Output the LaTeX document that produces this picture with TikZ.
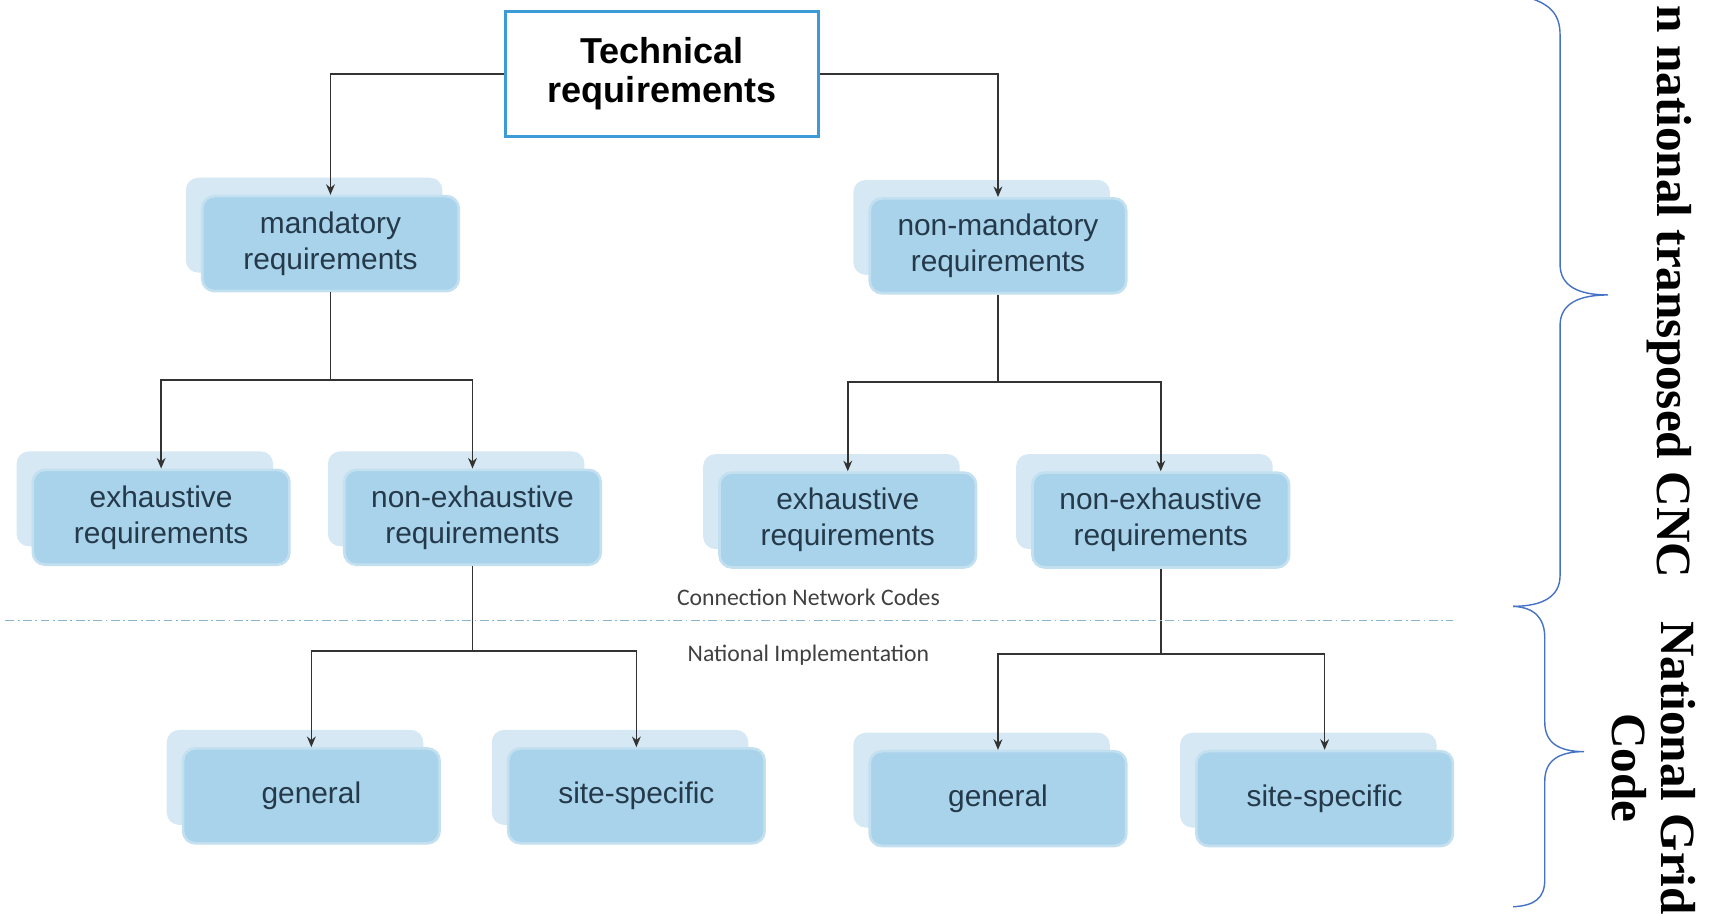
\documentclass[tikz,border=0pt]{standalone}
\usepackage{fontspec}
\setmainfont{Liberation Sans}
\newfontfamily\notefont{Carlito}
\newfontfamily\sidefont{Liberation Serif}
\usetikzlibrary{arrows.meta,shadows}
\definecolor{BoxBlue}{HTML}{A9D3EA}
\definecolor{BackBlue}{HTML}{D5E8F3}
\definecolor{BoxText}{HTML}{24394A}
\definecolor{TopBlue}{HTML}{3C9AD6}
\definecolor{BraceBlue}{HTML}{4472C4}
\definecolor{SepBlue}{HTML}{8DB4CD}
\begin{document}
\begin{tikzpicture}
[
x=0.02185cm, y=-0.02185cm,
TopBox/.style={rectangle, draw=TopBlue, line width=1.6pt, fill=white, minimum width=178pt, minimum height=71pt, align=center, font=\fontsize{20.5}{22}\selectfont\bfseries},
ReqBox/.style={rectangle, rounded corners=7pt, fill=BoxBlue, draw=BoxBlue!70!white, line width=1.5pt, minimum width=146pt, minimum height=54pt, align=center, text=BoxText, font=\fontsize{17}{20.5}\selectfont, copy shadow={shadow xshift=-9.3pt, shadow yshift=10.5pt, fill=BackBlue, draw=none}},
Link/.style={-{Stealth[length=6pt,width=5pt]}, draw=black!80, line width=0.9pt},
Note/.style={font=\notefont\fontsize{13.5}{16}\selectfont, text=black!75},
Side/.style={font=\sidefont\fontsize{28}{28}\selectfont\bfseries, rotate=-90, align=center},
Brace/.style={draw=BraceBlue, line width=0.8pt},
SepLine/.style={draw=SepBlue, line width=1pt, dash pattern=on 5pt off 2pt on 1pt off 2pt},
]

\useasboundingbox (0,0) rectangle (1568,836);

% top level
\node[TopBox] (tech) at (606,67.5) {Technical\\requirements};

% second level
\node[ReqBox] (mand) at (302.5,223) {mandatory\\requirements};
\node[ReqBox] (nonmand) at (913.5,225) {non-mandatory\\requirements};

% third level
\node[ReqBox] (exhL) at (147.5,473.5) {exhaustive\\requirements};
\node[ReqBox] (nexL) at (432.5,473.5) {non-exhaustive\\requirements};
\node[ReqBox] (exhR) at (776,476) {exhaustive\\requirements};
\node[ReqBox] (nexR) at (1062.5,476) {non-exhaustive\\requirements};

% national level
\node[ReqBox] (genL) at (285,728.5) {general};
\node[ReqBox] (siteL) at (582.5,728.5) {site-specific};
\node[ReqBox] (genR) at (913.5,731) {general};
\node[ReqBox] (siteR) at (1212.5,731) {site-specific};

\draw[Link] (tech.west) -| (mand.north);
\draw[Link] (tech.east) -| (nonmand.north);

\draw[Link] (mand.south) -- ++(0,80) -| (exhL.north);
\draw[Link] (mand.south) -- ++(0,80) -| (nexL.north);
\draw[Link] (nonmand.south) -- ++(0,80) -| (exhR.north);
\draw[Link] (nonmand.south) -- ++(0,80) -| (nexR.north);

\draw[Link] (nexL.south) -- ++(0,78) -| (genL.north);
\draw[Link] (nexL.south) -- ++(0,78) -| (siteL.north);
\draw[Link] (nexR.south) -- ++(0,78) -| (genR.north);
\draw[Link] (nexR.south) -- ++(0,78) -| (siteR.north);

% separation of the two levels
\draw[SepLine] (5,568) -- (1330,568);
\node[Note] (cnc) at (740,547) {Connection Network Codes};
\node[Note] (natimp) at (740,600) {National Implementation};

% braces
\draw[Brace] (1392,-4) .. controls (1418,2) and (1428,12) .. (1428,32) -- (1428,242)
  .. controls (1428,262) and (1445,270) .. (1472,270)
  .. controls (1445,270) and (1428,278) .. (1428,298) -- (1428,527)
  .. controls (1428,546) and (1412,555) .. (1385,555);
\draw[Brace] (1385,555) .. controls (1405,556) and (1414,566) .. (1414,584) -- (1414,661)
  .. controls (1414,680) and (1427,688) .. (1450,688)
  .. controls (1427,688) and (1414,696) .. (1414,715) -- (1414,805)
  .. controls (1414,822) and (1405,829) .. (1385,830);

\node[Side, anchor=base east] (cnclabel) at (1517,535) {n national transposed CNC};
\node[Side] (ngclabel) at (1514,703) {National Grid\\Code};

\end{tikzpicture}
\end{document}
